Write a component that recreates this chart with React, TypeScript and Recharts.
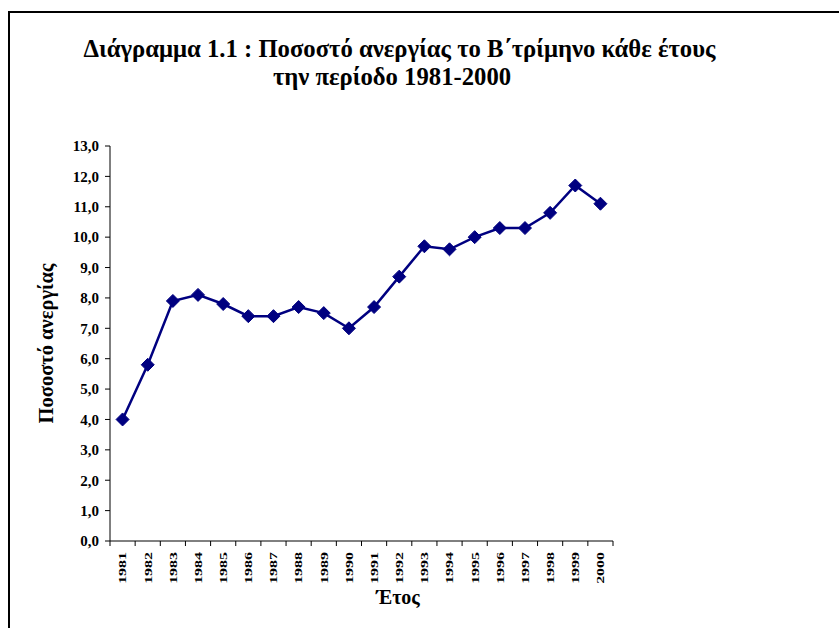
import React from 'react';
import { LineChart, Line, XAxis, YAxis } from 'recharts';

const years = ['1981', '1982', '1983', '1984', '1985', '1986', '1987', '1988', '1989', '1990', '1991', '1992', '1993', '1994', '1995', '1996', '1997', '1998', '1999', '2000'];
const rates = [4.0, 5.8, 7.9, 8.1, 7.8, 7.4, 7.4, 7.7, 7.5, 7.0, 7.7, 8.7, 9.7, 9.6, 10.0, 10.3, 10.3, 10.8, 11.7, 11.1];
const yTicks = [0, 1, 2, 3, 4, 5, 6, 7, 8, 9, 10, 11, 12, 13];
const titleLine1 = 'Διάγραμμα 1.1 : Ποσοστό ανεργίας το Β΄τρίμηνο κάθε έτους';
const titleLine2 = 'την περίοδο 1981-2000';
const xTitle = 'Έτος';
const yTitle = 'Ποσοστό ανεργίας';

const data = years.map((year, i) => ({ pos: i + 0.5, year, rate: rates[i] }));
const boundaryTicks = Array.from({ length: years.length + 1 }, (_, i) => i);

const W = 839;
const H = 628;
const margin = { top: 146, right: 226, bottom: 47, left: 50 };
const yAxisWidth = 60;
const plotWidth = W - margin.left - margin.right - yAxisWidth;
const halfStep = plotWidth / years.length / 2;

const FONT = '"Liberation Serif", "Times New Roman", serif';
const NAVY = '#000080';

const XTick = (props: any) => {
  const { x, y, payload } = props;
  const idx = payload.value;
  if (idx >= years.length) return null;
  return (
    <text
      transform={`translate(${x + halfStep},${y + 4}) rotate(-90) scale(1.45,1)`}
      textAnchor="end"
      dy="0.35em"
      fontFamily={FONT}
      fontWeight="bold"
      fontSize={11}
      fill="#000"
    >
      {years[idx]}
    </text>
  );
};

const Diamond = (props: any) => {
  const { cx, cy } = props;
  if (cx == null || cy == null) return null;
  const rx = 6.5;
  const ry = 6.5;
  return (
    <path
      d={`M${cx},${cy - ry} L${cx + rx},${cy} L${cx},${cy + ry} L${cx - rx},${cy} Z`}
      fill={NAVY}
      stroke={NAVY}
      strokeWidth={1}
    />
  );
};

export default function App() {
  return (
    <div
      style={{
        position: 'fixed',
        left: 0,
        top: 0,
        width: W,
        height: H,
        overflow: 'hidden',
        background: '#fff',
      }}
    >
      <div
        style={{
          position: 'absolute',
          left: 8,
          top: 11,
          width: 1000,
          height: 1000,
          borderTop: '2px solid #000',
          borderLeft: '2px solid #000',
        }}
      />
      <div style={{ position: 'absolute', left: 0, top: 0 }}>
        <LineChart width={W} height={H} data={data} margin={margin}>
          <XAxis
            dataKey="pos"
            type="number"
            domain={[0, years.length]}
            ticks={boundaryTicks}
            interval={0}
            tickSize={5}
            height={40}
            tick={<XTick />}
            axisLine={{ stroke: '#000', strokeWidth: 1 }}
            tickLine={{ stroke: '#000', strokeWidth: 1 }}
            allowDecimals={false}
          />
          <YAxis
            type="number"
            domain={[0, 13]}
            ticks={yTicks}
            interval={0}
            width={yAxisWidth}
            tickSize={5}
            tickMargin={6}
            tickFormatter={(v: number) => v.toFixed(1).replace('.', ',')}
            tick={{ fontFamily: FONT, fontWeight: 'bold', fontSize: 15, fill: '#000' }}
            axisLine={{ stroke: '#000', strokeWidth: 1 }}
            tickLine={{ stroke: '#000', strokeWidth: 1 }}
          />
          <Line
            type="linear"
            dataKey="rate"
            stroke={NAVY}
            strokeWidth={2.5}
            dot={<Diamond />}
            activeDot={false}
            isAnimationActive={false}
          />
        </LineChart>
      </div>
      <svg
        width={W}
        height={H}
        style={{ position: 'absolute', left: 0, top: 0, pointerEvents: 'none' }}
      >
        <text x={399.5} y={57} textAnchor="middle" fontFamily={FONT} fontWeight="bold" fontSize={24.7} fill="#000">
          {titleLine1}
        </text>
        <text x={392} y={85} textAnchor="middle" fontFamily={FONT} fontWeight="bold" fontSize={24.7} fill="#000">
          {titleLine2}
        </text>
        <text
          transform="translate(53,343.5) rotate(-90)"
          textAnchor="middle"
          fontFamily={FONT}
          fontWeight="bold"
          fontSize={20.5}
          fill="#000"
        >
          {yTitle}
        </text>
        <text x={398} y={604} textAnchor="middle" fontFamily={FONT} fontWeight="bold" fontSize={20} fill="#000">
          {xTitle}
        </text>
      </svg>
    </div>
  );
}
